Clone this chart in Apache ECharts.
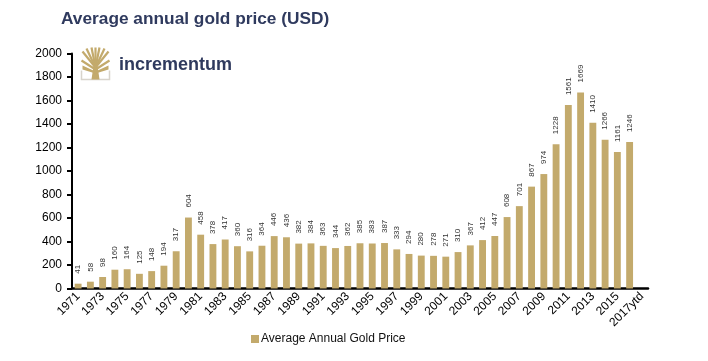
<!DOCTYPE html>
<html>
<head>
<meta charset="utf-8">
<script src="https://cdn.jsdelivr.net/npm/echarts@6/dist/echarts.min.js"></script>
<style>html,body{margin:0;padding:0;background:#fff}#c{width:708px;height:361px}</style>
</head>
<body>
<div id="c"></div>
<script>
var years = ['1971','1972','1973','1974','1975','1976','1977','1978','1979','1980',
  '1981','1982','1983','1984','1985','1986','1987','1988','1989','1990',
  '1991','1992','1993','1994','1995','1996','1997','1998','1999','2000',
  '2001','2002','2003','2004','2005','2006','2007','2008','2009','2010',
  '2011','2012','2013','2014','2015','2016','2017ytd'];
var goldPrice = [41,58,98,160,164,125,148,194,317,604,
  458,378,417,360,316,364,446,436,382,384,
  363,344,362,385,383,387,333,294,280,278,
  271,310,367,412,447,608,701,867,974,1228,
  1561,1669,1410,1266,1161,1246,'-'];
var yTicks = [0,200,400,600,800,1000,1200,1400,1600,1800,2000];
var seriesName = 'Average Annual Gold Price';
var titleText = 'Average annual gold price (USD)';
var logoText = 'incrementum';

var gold = '#c3aa6c';
var navy = '#2f3a5e';
var chart = echarts.init(document.getElementById('c'));
chart.setOption({
  animation: false,
  textStyle: {fontFamily: 'Liberation Sans, Arial, sans-serif'},
  title: {
    text: titleText, left: 56, top: 6,
    textStyle: {fontSize: 17.3, fontWeight: 'bold', color: navy, fontFamily: 'Liberation Sans, Arial, sans-serif'}
  },
  legend: {
    bottom: 11, left: 246, itemWidth: 8, itemHeight: 8, itemGap: 4,
    icon: 'rect',
    textStyle: {fontSize: 12, color: '#111', padding: [0,0,0,-3]},
    data: [seriesName]
  },
  grid: {left: 72, right: 60, top: 53.5, bottom: 72.5},
  xAxis: {
    type: 'category', data: years,
    axisLine: {lineStyle: {color: '#000', width: 2.5}},
    axisTick: {show: false},
    axisLabel: {interval: 1, rotate: 45, fontSize: 12, color: '#000', margin: 6}
  },
  yAxis: {
    type: 'value', position: 'left', min: yTicks[0], max: yTicks[yTicks.length-1], interval: 200,
    splitLine: {show: false},
    axisLine: {show: true, onZero: false, lineStyle: {color: '#000', width: 2, opacity: 1}},
    axisTick: {show: true, inside: false, length: 5, lineStyle: {color: '#000', width: 2, opacity: 1}},
    axisLabel: {fontSize: 12, color: '#000', margin: 10, formatter: function (v) { return String(v); }}
  },
  series: [{
    name: seriesName, type: 'bar', data: goldPrice,
    barCategoryGap: '44%',
    itemStyle: {color: gold},
    label: {
      show: true, position: 'top', rotate: 90, align: 'left', verticalAlign: 'middle',
      distance: 10, fontSize: 8, color: '#333'
    }
  }],
  graphic: [
    {type: 'text', left: 119, top: 56, style: {text: logoText, fontSize: 18, fontWeight: 'bold', fill: navy, fontFamily: 'Liberation Sans, Arial, sans-serif'}},
    {type: 'group', left: 79, top: 45, children: [
      {type: 'polyline', shape: {points: [[1,23],[1,32],[29,32],[29,23]]}, style: {stroke: '#d8d4cc', lineWidth: 1.5, fill: null}},
      {type: 'polygon', shape: {points: [[11,32],[13,18],[17,18],[19,32]]}, style: {fill: gold}},
      {type: 'line', shape: {x1: 15, y1: 20, x2: 2, y2: 4}, style: {stroke: gold, lineWidth: 2.2}},
      {type: 'line', shape: {x1: 15, y1: 20, x2: 6, y2: 1}, style: {stroke: gold, lineWidth: 2.2}},
      {type: 'line', shape: {x1: 15, y1: 20, x2: 11, y2: 0}, style: {stroke: gold, lineWidth: 2.2}},
      {type: 'line', shape: {x1: 15, y1: 20, x2: 15, y2: 0}, style: {stroke: gold, lineWidth: 2.2}},
      {type: 'line', shape: {x1: 15, y1: 20, x2: 19, y2: 0}, style: {stroke: gold, lineWidth: 2.2}},
      {type: 'line', shape: {x1: 15, y1: 20, x2: 24, y2: 1}, style: {stroke: gold, lineWidth: 2.2}},
      {type: 'line', shape: {x1: 15, y1: 20, x2: 28, y2: 4}, style: {stroke: gold, lineWidth: 2.2}},
      {type: 'line', shape: {x1: 15, y1: 22, x2: 1, y2: 13}, style: {stroke: gold, lineWidth: 2.2}},
      {type: 'line', shape: {x1: 15, y1: 22, x2: 29, y2: 13}, style: {stroke: gold, lineWidth: 2.2}},
      {type: 'polygon', shape: {points: [[2,18],[15,24],[28,18],[28,22],[15,26],[2,22]]}, style: {fill: gold}}
    ]}
  ]
});
</script>
</body>
</html>
